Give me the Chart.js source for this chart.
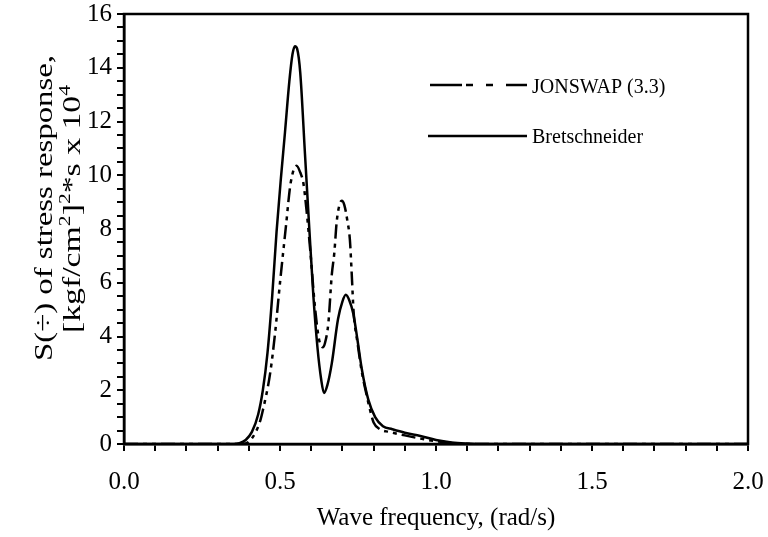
<!DOCTYPE html>
<html><head><meta charset="utf-8">
<script src="https://cdn.jsdelivr.net/npm/chart.js@4.4.1/dist/chart.umd.min.js"></script>
<style>html,body{margin:0;padding:0;background:#fff}#wrap{width:768px;height:537px}</style>
</head><body><div id="wrap"><canvas id="c" width="768" height="537"></canvas></div>
<script>
// ---- data ----
const freqJonswap = [0.0, 0.38, 0.40, 0.42, 0.435, 0.446, 0.468, 0.484, 0.50, 0.519, 0.534, 0.553, 0.565, 0.575, 0.585, 0.597, 0.612, 0.625, 0.637, 0.644, 0.655, 0.666, 0.674, 0.682, 0.692, 0.698, 0.706, 0.716, 0.724, 0.73, 0.736, 0.748, 0.762, 0.778, 0.79, 0.80, 0.82, 0.85, 0.90, 0.95, 1.00, 1.05, 1.10, 2.0];
const specJonswap = [0, 0, 0.08, 0.4, 0.8, 1.3, 2.6, 4.1, 6.0, 8.1, 9.7, 10.35, 10.1, 9.7, 8.7, 7.2, 5.1, 3.9, 3.6, 3.75, 4.5, 6.3, 7.1, 8.3, 8.95, 9.05, 8.9, 8.3, 7.6, 6.3, 4.9, 3.8, 2.7, 1.8, 1.2, 0.8, 0.55, 0.45, 0.32, 0.2, 0.1, 0.04, 0, 0];
const freqBret = [0.0, 0.35, 0.37, 0.39, 0.41, 0.43, 0.445, 0.46, 0.475, 0.489, 0.503, 0.516, 0.53, 0.54, 0.548, 0.555, 0.565, 0.58, 0.594, 0.607, 0.62, 0.632, 0.641, 0.652, 0.666, 0.686, 0.70, 0.711, 0.722, 0.735, 0.748, 0.762, 0.783, 0.805, 0.83, 0.86, 0.90, 0.95, 1.00, 1.05, 1.10, 1.15, 2.0];
const specBret = [0, 0, 0.03, 0.15, 0.45, 1.1, 2.0, 3.4, 5.5, 7.9, 9.9, 11.6, 13.5, 14.5, 14.8, 14.7, 13.8, 10.8, 8.0, 5.5, 3.6, 2.4, 1.9, 2.2, 3.0, 4.65, 5.3, 5.55, 5.35, 4.85, 3.9, 2.8, 1.65, 1.0, 0.66, 0.55, 0.42, 0.3, 0.15, 0.06, 0.02, 0, 0];
const seriesNames = ['JONSWAP (3.3)', 'Bretschneider'];
const xTitle = 'Wave frequency, (rad/s)';
const yTitleLine1 = 'S(\u00F7) of stress response,';
const yTitleLine2 = [['[kgf/cm', 0], ['2', 1], [']', 0], ['2', 1], ['*s x 10', 0], ['4', 1]];

const FONT = '"Liberation Serif", "Times New Roman", serif';
const toPts = (xs, ys) => xs.map((x, i) => ({x: x, y: ys[i]}));
const JDASH = [14, 5, 4, 5, 4, 5];

const decorPlugin = {
  id: 'decor',
  afterDraw(chart) {
    const ctx = chart.ctx, a = chart.chartArea;
    ctx.save();
    // frame
    ctx.strokeStyle = '#000'; ctx.lineWidth = 2.5; ctx.setLineDash([]);
    ctx.strokeRect(a.left, a.top, a.right - a.left, a.bottom - a.top);
    // legend
    ctx.lineWidth = 2.5;
    ctx.setLineDash([32, 4, 7, 13, 7, 13]);
    ctx.beginPath(); ctx.moveTo(430, 85); ctx.lineTo(527, 85); ctx.stroke();
    ctx.setLineDash([]);
    ctx.beginPath(); ctx.moveTo(428, 136); ctx.lineTo(527, 136); ctx.stroke();
    ctx.fillStyle = '#000';
    ctx.font = '20px ' + FONT;
    ctx.textAlign = 'left'; ctx.textBaseline = 'alphabetic';
    ctx.fillText(seriesNames[0], 532, 93);
    ctx.fillText(seriesNames[1], 532, 143);
    // y title line 1
    ctx.font = '25px ' + FONT;
    ctx.save();
    ctx.translate(52, 208);
    ctx.rotate(-Math.PI / 2);
    let w1 = ctx.measureText(yTitleLine1).width;
    let s1 = 306 / w1;
    ctx.scale(s1, 1);
    ctx.textAlign = 'center';
    ctx.fillText(yTitleLine1, 0, 0);
    ctx.restore();
    // y title line 2 with superscripts
    ctx.save();
    ctx.translate(80, 209);
    ctx.rotate(-Math.PI / 2);
    let total = 0;
    const parts = yTitleLine2.map(p => {
      ctx.font = (p[1] ? '16px ' : '25px ') + FONT;
      const w = ctx.measureText(p[0]).width;
      total += w;
      return {t: p[0], sup: p[1], w: w};
    });
    const s2 = 248 / total;
    ctx.scale(s2, 1);
    let xx = -total / 2;
    ctx.textAlign = 'left';
    parts.forEach(p => {
      ctx.font = (p.sup ? '16px ' : '25px ') + FONT;
      ctx.fillText(p.t, xx, p.sup ? -10 : 0);
      xx += p.w;
    });
    ctx.restore();
    ctx.restore();
  }
};

new Chart(document.getElementById('c'), {
  type: 'line',
  data: {
    datasets: [
      {label: seriesNames[0], data: toPts(freqJonswap, specJonswap), borderColor: '#000', borderWidth: 2.5, borderDash: JDASH, pointRadius: 0, fill: false, cubicInterpolationMode: 'monotone'},
      {label: seriesNames[1], data: toPts(freqBret, specBret), borderColor: '#000', borderWidth: 2.5, pointRadius: 0, fill: false, cubicInterpolationMode: 'monotone'}
    ]
  },
  options: {
    responsive: false, maintainAspectRatio: false, animation: false,
    layout: {padding: {top: 14, right: 20, left: 0, bottom: 0}},
    plugins: {legend: {display: false}, tooltip: {enabled: false}},
    scales: {
      x: {
        type: 'linear', min: 0, max: 2,
        afterFit: s => { s.height = 93; s.paddingLeft = 0; s.paddingRight = 0; },
        border: {display: true, color: '#000', width: 2.5},
        grid: {drawOnChartArea: false, drawTicks: true, tickLength: 7, color: '#000', lineWidth: 2},
        ticks: {stepSize: 0.1, autoSkip: false, maxRotation: 0, padding: 19, color: '#000',
          font: {family: FONT, size: 25, lineHeight: 1},
          callback: v => (Math.abs(v * 2 - Math.round(v * 2)) < 1e-6 ? v.toFixed(1) : '')},
        title: {display: true, text: xTitle, color: '#000', font: {family: FONT, size: 25, lineHeight: 1.2}, padding: {top: 0, bottom: 4}}
      },
      y: {
        min: 0, max: 16,
        afterFit: s => { s.width = 124; s.paddingTop = 0; s.paddingBottom = 0; },
        border: {display: true, color: '#000', width: 2.5},
        grid: {drawOnChartArea: false, drawTicks: true, tickLength: 7, color: '#000', lineWidth: 2},
        ticks: {stepSize: 0.5, autoSkip: false, padding: 5, color: '#000',
          font: {family: FONT, size: 25, lineHeight: 1},
          callback: v => (Math.abs(v % 2) < 1e-6 ? String(v) : '')}
      }
    }
  },
  plugins: [decorPlugin]
});
</script></body></html>
